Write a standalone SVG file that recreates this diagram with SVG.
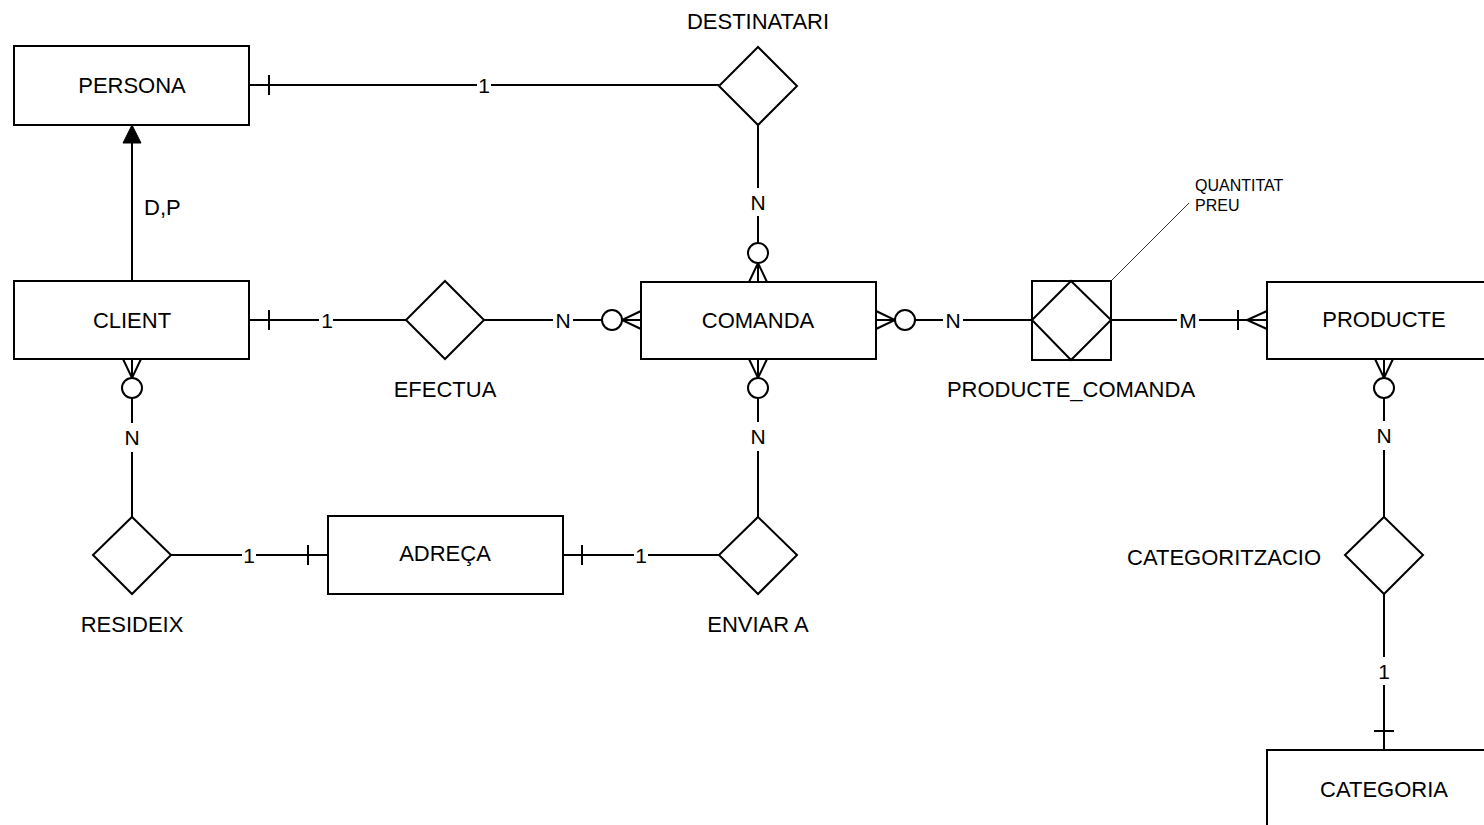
<svg xmlns="http://www.w3.org/2000/svg" xmlns:xlink="http://www.w3.org/1999/xlink" width="1484" height="825" viewBox="0 0 1484 825">
  <style>
    .box { fill: #ffffff; stroke: #000000; stroke-width: 2; }
    .rel { fill: #ffffff; stroke: #000000; stroke-width: 2; }
    .ln { fill: none; stroke: #000000; stroke-width: 2; }
    .name { font-family: "Liberation Sans", Arial, sans-serif; font-size: 22px; fill: #000000; }
    .card { font-family: "Liberation Sans", Arial, sans-serif; font-size: 21px; fill: #000000; text-anchor: middle; }
    .note { font-family: "Liberation Sans", Arial, sans-serif; font-size: 16px; fill: #000000; }
    .gap { fill: #ffffff; stroke: none; }
    .mid { text-anchor: middle; }
  </style>
  <defs>
    <!-- zero-or-many end: entity edge at origin, pointing along +x -->
    <g id="zeroMany">
      <path class="ln" d="M0,-9 L19,0 L0,9 M0,0 L19,0"/>
      <circle cx="29" cy="0" r="10" fill="#ffffff" stroke="#000000" stroke-width="2"/>
    </g>
    <!-- one-or-many end with bar: entity edge at origin, pointing along +x -->
    <g id="oneMany">
      <path class="ln" d="M0,-9 L20,0 L0,9 M0,0 L29,0 M29,-10 L29,10"/>
    </g>
    <!-- single bar for "one" -->
    <path id="bar" class="ln" d="M0,-10 L0,10"/>
  </defs>

  <!-- connectors -->
  <g id="connectors">
    <!-- PERSONA - DESTINATARI -->
    <line class="ln" x1="249" y1="85" x2="719" y2="85"/>
    <use xlink:href="#bar" transform="translate(269,85)"/>
    <rect class="gap" x="477" y="81" width="14" height="8"/>
    <text class="card" x="484" y="93">1</text>

    <!-- DESTINATARI - COMANDA -->
    <line class="ln" x1="758" y1="125" x2="758" y2="243"/>
    <rect class="gap" x="754" y="188" width="8" height="28"/>
    <text class="card" x="758" y="210">N</text>
    <use xlink:href="#zeroMany" transform="translate(758,282) rotate(-90)"/>

    <!-- CLIENT is-a PERSONA -->
    <line class="ln" x1="132" y1="281" x2="132" y2="140"/>
    <path d="M132,125 L141,143 L123,143 Z" fill="#000000" stroke="#000000" stroke-width="1"/>
    <text class="name" x="144" y="215">D,P</text>

    <!-- CLIENT - EFECTUA -->
    <line class="ln" x1="249" y1="320" x2="406" y2="320"/>
    <use xlink:href="#bar" transform="translate(269,320)"/>
    <rect class="gap" x="319" y="316" width="14" height="8"/>
    <text class="card" x="327" y="328">1</text>

    <!-- EFECTUA - COMANDA -->
    <line class="ln" x1="484" y1="320" x2="602" y2="320"/>
    <rect class="gap" x="553" y="316" width="20" height="8"/>
    <text class="card" x="563" y="328">N</text>
    <use xlink:href="#zeroMany" transform="translate(641,320) rotate(180)"/>

    <!-- COMANDA - PRODUCTE_COMANDA -->
    <line class="ln" x1="915" y1="320" x2="1032" y2="320"/>
    <rect class="gap" x="943" y="316" width="20" height="8"/>
    <text class="card" x="953" y="328">N</text>
    <use xlink:href="#zeroMany" transform="translate(876,320)"/>

    <!-- PRODUCTE_COMANDA - PRODUCTE -->
    <line class="ln" x1="1111" y1="320" x2="1267" y2="320"/>
    <rect class="gap" x="1177" y="316" width="22" height="8"/>
    <text class="card" x="1188" y="328">M</text>
    <use xlink:href="#oneMany" transform="translate(1267,320) rotate(180)"/>

    <!-- attribute note -->
    <line x1="1111" y1="281" x2="1189" y2="203" stroke="#333333" stroke-width="1"/>

    <!-- CLIENT - RESIDEIX -->
    <line class="ln" x1="132" y1="398" x2="132" y2="517"/>
    <rect class="gap" x="128" y="423" width="8" height="29"/>
    <text class="card" x="132" y="445">N</text>
    <use xlink:href="#zeroMany" transform="translate(132,359) rotate(90)"/>

    <!-- RESIDEIX - ADREÇA -->
    <line class="ln" x1="171" y1="555" x2="328" y2="555"/>
    <rect class="gap" x="242" y="551" width="14" height="8"/>
    <text class="card" x="249" y="563">1</text>
    <use xlink:href="#bar" transform="translate(308,555)"/>

    <!-- ADREÇA - ENVIAR A -->
    <line class="ln" x1="563" y1="555" x2="719" y2="555"/>
    <use xlink:href="#bar" transform="translate(582,555)"/>
    <rect class="gap" x="634" y="551" width="14" height="8"/>
    <text class="card" x="641" y="563">1</text>

    <!-- COMANDA - ENVIAR A -->
    <line class="ln" x1="758" y1="398" x2="758" y2="517"/>
    <rect class="gap" x="754" y="422" width="8" height="29"/>
    <text class="card" x="758" y="444">N</text>
    <use xlink:href="#zeroMany" transform="translate(758,359) rotate(90)"/>

    <!-- PRODUCTE - CATEGORITZACIO -->
    <line class="ln" x1="1384" y1="398" x2="1384" y2="517"/>
    <rect class="gap" x="1380" y="421" width="8" height="29"/>
    <text class="card" x="1384" y="443">N</text>
    <use xlink:href="#zeroMany" transform="translate(1384,359) rotate(90)"/>

    <!-- CATEGORITZACIO - CATEGORIA -->
    <line class="ln" x1="1384" y1="594" x2="1384" y2="750"/>
    <rect class="gap" x="1380" y="657" width="8" height="28"/>
    <text class="card" x="1384" y="679">1</text>
    <path class="ln" d="M1374,731 L1394,731"/>
  </g>

  <!-- entities -->
  <g id="persona">
    <rect class="box" x="14" y="46" width="235" height="79"/>
    <text class="name mid" x="132" y="93">PERSONA</text>
  </g>
  <g id="client">
    <rect class="box" x="14" y="281" width="235" height="78"/>
    <text class="name mid" x="132" y="328">CLIENT</text>
  </g>
  <g id="comanda">
    <rect class="box" x="641" y="282" width="235" height="77"/>
    <text class="name mid" x="758" y="328">COMANDA</text>
  </g>
  <g id="adreca">
    <rect class="box" x="328" y="516" width="235" height="78"/>
    <text class="name mid" x="445" y="561">ADREÇA</text>
  </g>
  <g id="producte">
    <rect class="box" x="1267" y="282" width="235" height="77"/>
    <text class="name mid" x="1384" y="327">PRODUCTE</text>
  </g>
  <g id="categoria">
    <rect class="box" x="1267" y="750" width="235" height="80"/>
    <text class="name mid" x="1384" y="797">CATEGORIA</text>
  </g>

  <!-- relationships -->
  <g id="destinatari">
    <path class="rel" d="M758,47 L797,86 L758,125 L719,86 Z"/>
    <text class="name mid" x="758" y="29">DESTINATARI</text>
  </g>
  <g id="efectua">
    <path class="rel" d="M445,281 L484,320 L445,359 L406,320 Z"/>
    <text class="name mid" x="445" y="397">EFECTUA</text>
  </g>
  <g id="producte_comanda">
    <rect class="box" x="1032" y="281" width="79" height="79"/>
    <path class="rel" d="M1071,281 L1111,320 L1071,360 L1032,320 Z"/>
    <text class="name mid" x="1071" y="397">PRODUCTE_COMANDA</text>
    <text class="note" x="1195" y="191">QUANTITAT</text>
    <text class="note" x="1195" y="211">PREU</text>
  </g>
  <g id="resideix">
    <path class="rel" d="M132,517 L171,555 L132,594 L93,555 Z"/>
    <text class="name mid" x="132" y="632">RESIDEIX</text>
  </g>
  <g id="enviar_a">
    <path class="rel" d="M758,517 L797,555 L758,594 L719,555 Z"/>
    <text class="name mid" x="758" y="632">ENVIAR A</text>
  </g>
  <g id="categoritzacio">
    <path class="rel" d="M1384,517 L1423,555 L1384,594 L1345,555 Z"/>
    <text class="name" x="1321" y="565" text-anchor="end">CATEGORITZACIO</text>
  </g>
</svg>
